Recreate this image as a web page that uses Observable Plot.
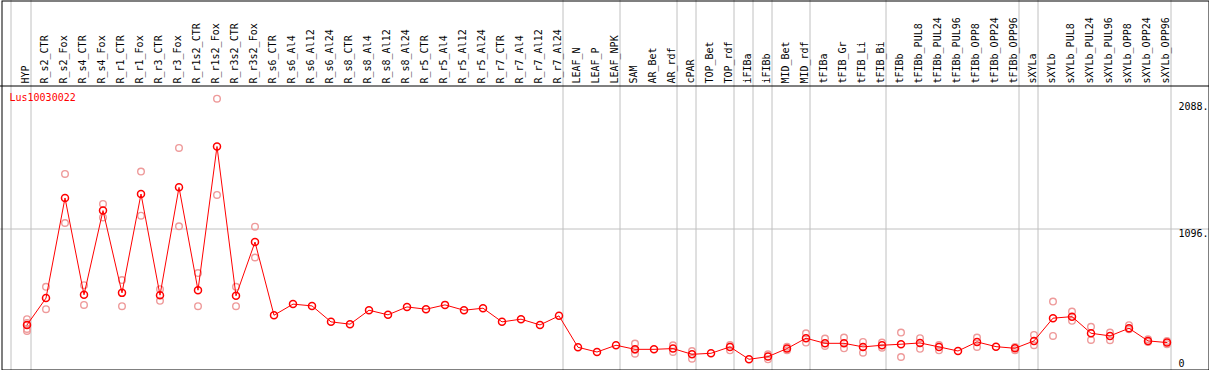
<!DOCTYPE html>
<html>
<head>
<meta charset="utf-8">
<script src="https://cdn.jsdelivr.net/npm/d3@7"></script>
<script src="https://cdn.jsdelivr.net/npm/@observablehq/plot@0.6"></script>
<style>
  html, body { margin: 0; padding: 0; background: #fff; }
  #chart svg { display: block; }
</style>
</head>
<body>
<div id="chart"></div>
<script>
const categories = [
  "HYP","R_s2_CTR","R_s2_Fox","R_s4_CTR","R_s4_Fox","R_r1_CTR","R_r1_Fox","R_r3_CTR","R_r3_Fox",
  "R_r1s2_CTR","R_r1s2_Fox","R_r3s2_CTR","R_r3s2_Fox","R_s6_CTR","R_s6_Al4","R_s6_Al12","R_s6_Al24",
  "R_s8_CTR","R_s8_Al4","R_s8_Al12","R_s8_Al24","R_r5_CTR","R_r5_Al4","R_r5_Al12","R_r5_Al24",
  "R_r7_CTR","R_r7_Al4","R_r7_Al12","R_r7_Al24","LEAF_N","LEAF_P","LEAF_NPK","SAM","AR_Bet","AR_rdf",
  "cPAR","TOP_Bet","TOP_rdf","iFIBa","iFIBb","MID_Bet","MID_rdf","tFIBa","tFIB_Gr","tFIB_Li","tFIB_Bi",
  "tFIBb","tFIBb_PUL8","tFIBb_PUL24","tFIBb_PUL96","tFIBb_OPP8","tFIBb_OPP24","tFIBb_OPP96","sXYLa",
  "sXYLb","sXYLb_PUL8","sXYLb_PUL24","sXYLb_PUL96","sXYLb_OPP8","sXYLb_OPP24","sXYLb_OPP96"
];
const means = [
  345,555,1339,581,1240,596,1370,578,1422,617,1742,573,994,421,508,494,369,
  351,460,424,486,468,502,460,476,369,390,345,416,170,133,186,154,154,160,
  115,123,173,76,97,160,241,201,201,173,186,194,204,173,141,212,175,162,220,
  398,410,280,259,319,220,207
];
const replicates = [
  [390,361,314,298],[643,468],[1527,1143],[656,502],[1292,1187],[696,492],[1546,1200],[625,534],[1731,1117],
  [751,492],[2116,1363],[643,492],[1114,873],[],[],[],[],
  [],[],[],[],[],[],[],[],
  [],[],[],[],[],[],[],[199,120,150],[],[186,133],
  [141,81],[],[188,146],[],[115,76],[175,146],[280,207],[238,180],[246,162],[212,128],[207,167],
  [285,94],[241,158],[188,146],[],[246,173],[],[173,146],[267,186],
  [528,259],[450,377],[330,228],[285,225],[343,311],[233,212],[220,194]
];
// group sizes (vertical separators drawn between groups)
const groupSizes = [1,28,3,3,1,2,1,1,2,4,7,1,7];
const yTicks = [0, 1096, 2088];
const yTickLabels = ["0", "1096.", "2088."];
const geneName = "Lus10030022";

const W = 1209, H = 370;
const xDomain = [0, categories.length - 1], xRange = [26.5, 1166.5];
const yDomain = [0, 2088], yRange = [368.5, 101.8];
const step = (xRange[1] - xRange[0]) / (categories.length - 1);
const yS = d3.scaleLinear().domain(yDomain).range(yRange);
const headerV = yS.invert(85.5);

const meanData = means.map((v, i) => ({i, v, name: categories[i]}));
const repData = replicates.flatMap((arr, i) => arr.map(v => ({i, v})));
const seps = [-1];
{ let acc = 0; for (const g of groupSizes) { acc += g; seps.push(acc - 1); } }
const sepX = seps.map((s, k) => s + (k === 0 ? 3 : 4) / step);
const tickData = yTicks.map((v, k) => ({v, label: yTickLabels[k]}));

const plot = Plot.plot({
  width: W, height: H,
  marginTop: 0, marginRight: 0, marginBottom: 0, marginLeft: 0,
  style: {fontFamily: "'DejaVu Sans Mono', monospace", fontSize: "10px", background: "#fff", overflow: "visible"},
  x: {type: "linear", domain: xDomain, range: xRange, axis: null},
  y: {type: "linear", domain: yDomain, range: yRange, axis: null},
  marks: [
    Plot.ruleX(sepX, {stroke: "#c0c0c0", strokeWidth: 1}),
    Plot.ruleY([1096], {stroke: "#c0c0c0", strokeWidth: 1}),
    Plot.ruleY([headerV], {stroke: "#000", strokeWidth: 1}),
    Plot.frame({stroke: "#000", strokeWidth: 1, insetLeft: 1.5, insetRight: 0.5, insetTop: 0.5, insetBottom: 0.5}),
    Plot.text(meanData, {x: "i", text: "name", frameAnchor: "top", dy: 83, dx: -1, rotate: -90,
      textAnchor: "start", lineAnchor: "middle", fill: "#000", fontSize: 10}),
    Plot.text([geneName], {text: d => d, frameAnchor: "top-left", dx: 9, dy: 97,
      textAnchor: "start", lineAnchor: "middle", fill: "#ff0000", fontSize: 10}),
    Plot.text(tickData.filter(d => d.v !== 0), {y: "v", text: "label", frameAnchor: "left", dx: 1178, dy: 1,
      textAnchor: "start", lineAnchor: "top", fill: "#000", fontSize: 10}),
    Plot.text(tickData.filter(d => d.v === 0), {y: "v", text: "label", frameAnchor: "left", dx: 1178, dy: -2,
      textAnchor: "start", lineAnchor: "bottom", fill: "#000", fontSize: 10}),
    Plot.dot(repData, {x: "i", y: "v", r: 3.3, stroke: "#ee9a9a", strokeWidth: 1.4, fill: "none"}),
    Plot.line(meanData, {x: "i", y: "v", stroke: "#ff0000", strokeWidth: 1}),
    Plot.dot(meanData, {x: "i", y: "v", r: 3.5, stroke: "#ff0000", strokeWidth: 1.5, fill: "none"})
  ]
});
document.getElementById("chart").appendChild(plot);
</script>
</body>
</html>
